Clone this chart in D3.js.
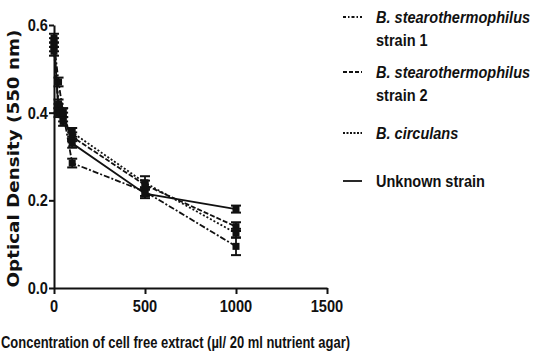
<!DOCTYPE html>
<html>
<head>
<meta charset="utf-8">
<script src="https://cdn.jsdelivr.net/npm/d3@7"></script>
<style>
  body { margin: 0; background: #fff; }
  svg { display: block; }
  text { font-family: 'Liberation Sans', Arial, sans-serif; fill: #111; }
</style>
</head>
<body>
<svg id="chart" width="533" height="356"></svg>
<script>
// concentrations (µl / 20 ml nutrient agar)
const conc = [0, 25, 50, 100, 500, 1000];

const strain1 = [0.56, 0.47, 0.40, 0.285, 0.22, 0.095];
const strain1Err = [0.01, 0.01, 0.01, 0.01, 0.01, 0.02];
const strain2 = [0.55, 0.41, 0.39, 0.345, 0.235, 0.14];
const strain2Err = [0.01, 0.01, 0.01, 0.01, 0.01, 0.01];
const circulans = [0.54, 0.42, 0.38, 0.355, 0.24, 0.125];
const circulansErr = [0.01, 0.01, 0.01, 0.01, 0.015, 0.01];
const unknown = [0.57, 0.40, 0.40, 0.33, 0.215, 0.18];
const unknownErr = [0.01, 0.01, 0.01, 0.01, 0.01, 0.008];

const xTicks = [0, 500, 1000, 1500];
const yTicks = [0.0, 0.2, 0.4, 0.6];

const legendLabels = [
  ['B. stearothermophilus', 'strain 1'],
  ['B. stearothermophilus', 'strain 2'],
  ['B. circulans'],
  ['Unknown strain']
];

const series = [
  { key: 'strain1', values: strain1, err: strain1Err, dash: '6,2,2,2', legendDash: '3,2,1.5,2' },
  { key: 'strain2', values: strain2, err: strain2Err, dash: '5,2', legendDash: '4,2' },
  { key: 'circulans', values: circulans, err: circulansErr, dash: '2,2', legendDash: '2,1.5' },
  { key: 'unknown', values: unknown, err: unknownErr, dash: null, legendDash: null }
];

const narrow = 0.82;   // fake a condensed face
const svg = d3.select('#chart');

const x = d3.scaleLinear().domain([0, 1500]).range([54, 327]);
const y = d3.scaleLinear().domain([0, 0.6]).range([288, 25]);

// narrow text helper
function ntext(parent, px, py, str, opts) {
  opts = opts || {};
  return parent.append('text')
      .attr('transform', `translate(${px},${py}) scale(${opts.sx || narrow},1)`)
      .attr('text-anchor', opts.anchor || 'start')
      .style('font-size', (opts.size || 16) + 'px')
      .style('font-weight', opts.weight || 'bold')
      .style('font-style', opts.italic ? 'italic' : 'normal')
      .text(str);
}

// axes
const xAxis = svg.append('g')
    .attr('transform', `translate(0,${y(0)})`)
    .call(d3.axisBottom(x).tickValues(xTicks).tickSize(6).tickSizeOuter(0).tickFormat(''));
const yAxis = svg.append('g')
    .attr('transform', `translate(${x(0)},0)`)
    .call(d3.axisLeft(y).tickValues(yTicks).tickSize(5).tickSizeOuter(0).tickFormat(''));

[xAxis, yAxis].forEach(a => {
  a.select('.domain').attr('stroke', '#111').attr('stroke-width', 2);
  a.selectAll('.tick line').attr('stroke', '#111').attr('stroke-width', 2);
});

const tickLabels = svg.append('g');
xTicks.forEach(t => ntext(tickLabels, x(t), y(0) + 24, d3.format('d')(t), { anchor: 'middle', size: 17, sx: 0.86 }));
yTicks.forEach(t => ntext(tickLabels, x(0) - 6, y(t) + 6, d3.format('.1f')(t), { anchor: 'end', size: 17, sx: 0.86 }));

// axis titles
svg.append('text')
    .attr('transform', `translate(19,${(y(0) + y(0.6)) / 2 + 2}) rotate(-90)`)
    .attr('text-anchor', 'middle')
    .style('font-family', "'DejaVu Sans', sans-serif")
    .style('font-weight', 'bold')
    .style('font-size', '15px')
    .attr('textLength', 258)
    .attr('lengthAdjust', 'spacingAndGlyphs')
    .text('Optical Density (550 nm)');

svg.append('text')
    .attr('x', 1)
    .attr('y', 348)
    .style('font-size', '17px')
    .style('font-weight', 'bold')
    .attr('textLength', 349)
    .attr('lengthAdjust', 'spacingAndGlyphs')
    .text('Concentration of cell free extract (µl/ 20 ml nutrient agar)');

// lines
const line = d3.line()
    .x((d, i) => x(conc[i]))
    .y(d => y(d));

const g = svg.append('g');
series.forEach(s => {
  g.append('path')
      .datum(s.values)
      .attr('fill', 'none')
      .attr('stroke', '#111')
      .attr('stroke-width', 1.8)
      .attr('stroke-dasharray', s.dash)
      .attr('d', line);

  const pts = g.append('g').selectAll('g')
      .data(s.values.map((v, i) => ({ c: conc[i], v: v, e: s.err[i] })))
      .enter()
      .append('g');

  // error bars
  pts.append('line')
      .attr('x1', d => x(d.c)).attr('x2', d => x(d.c))
      .attr('y1', d => y(d.v - d.e)).attr('y2', d => y(d.v + d.e))
      .attr('stroke', '#111').attr('stroke-width', 1.8);
  pts.append('line')
      .attr('x1', d => x(d.c) - 5).attr('x2', d => x(d.c) + 5)
      .attr('y1', d => y(d.v + d.e)).attr('y2', d => y(d.v + d.e))
      .attr('stroke', '#111').attr('stroke-width', 2);
  pts.append('line')
      .attr('x1', d => x(d.c) - 5).attr('x2', d => x(d.c) + 5)
      .attr('y1', d => y(d.v - d.e)).attr('y2', d => y(d.v - d.e))
      .attr('stroke', '#111').attr('stroke-width', 2);

  // markers
  pts.append('rect')
      .attr('x', d => x(d.c) - 3.5)
      .attr('y', d => y(d.v) - 3.5)
      .attr('width', 7)
      .attr('height', 7)
      .attr('fill', '#111');
});

// legend
const legendY = [17, 72, 133, 181];
const legend = svg.append('g');
series.forEach((s, i) => {
  legend.append('line')
      .attr('x1', 343).attr('x2', 362)
      .attr('y1', legendY[i]).attr('y2', legendY[i])
      .attr('stroke', '#111')
      .attr('stroke-width', 1.8)
      .attr('stroke-dasharray', s.legendDash);
  legendLabels[i].forEach((t, j) => {
    ntext(legend, 376, legendY[i] + 6 + j * 23, t, { size: 17, sx: 0.855, italic: j === 0 && i < 3 });
  });
});
</script>
</body>
</html>
